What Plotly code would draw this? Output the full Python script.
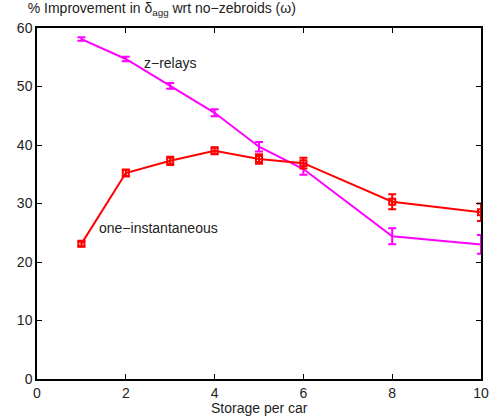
import plotly.graph_objects as go

storage = [1, 2, 3, 4, 5, 6, 8, 10]
z_relays = [58.1, 54.7, 50.1, 45.5, 39.7, 35.9, 24.4, 23.0]
z_relays_err = [0.3, 0.4, 0.5, 0.6, 0.8, 1.0, 1.35, 1.6]
one_inst = [23.1, 35.2, 37.3, 39.0, 37.6, 36.9, 30.3, 28.5]
one_inst_err = [0.4, 0.6, 0.7, 0.6, 0.8, 0.9, 1.3, 1.5]

fig = go.Figure()
fig.add_trace(go.Scatter(
    x=storage, y=z_relays, mode="lines",
    line=dict(color="#ff00ff", width=2),
    error_y=dict(type="data", array=z_relays_err, color="#ff00ff", thickness=2, width=4),
    showlegend=False))
fig.add_trace(go.Scatter(
    x=storage, y=one_inst, mode="lines+markers",
    line=dict(color="#ff0000", width=2),
    marker=dict(symbol="square-open", size=6, color="#ff0000", line=dict(width=2)),
    error_y=dict(type="data", array=one_inst_err, color="#ff0000", thickness=2, width=4),
    showlegend=False))

font = dict(family="Liberation Sans, Arial, sans-serif", size=14, color="#222")
fig.add_annotation(x=3.0, y=54.0, text="z\u2212relays", showarrow=False, font=font)
fig.add_annotation(x=2.73, y=25.8, text="one\u2212instantaneous", showarrow=False, font=font)
fig.add_annotation(x=0.5, xref="paper", y=-0.082, yref="paper", yanchor="middle",
                   text="Storage per car", showarrow=False, font=font)

axis_common = dict(showgrid=False, zeroline=False, showline=True, linecolor="black",
                   linewidth=1.5, mirror="ticks", ticks="inside", ticklen=5,
                   tickcolor="black", tickfont=font, automargin=False)
fig.update_xaxes(range=[0, 10], dtick=2, tick0=0, **axis_common)
fig.update_yaxes(range=[0, 60], dtick=10, tick0=0, **axis_common)

fig.update_layout(
    width=504, height=416,
    margin=dict(l=37, r=23, t=28, b=37),
    plot_bgcolor="white", paper_bgcolor="white",
    font=font,
    title=dict(text="% Improvement in \u03b4<sub>agg</sub> wrt no\u2212zebroids (\u03c9)",
               x=0.055, xanchor="left", y=0.992, yanchor="top", font=font, automargin=False),
)
fig.write_html("out.html")
